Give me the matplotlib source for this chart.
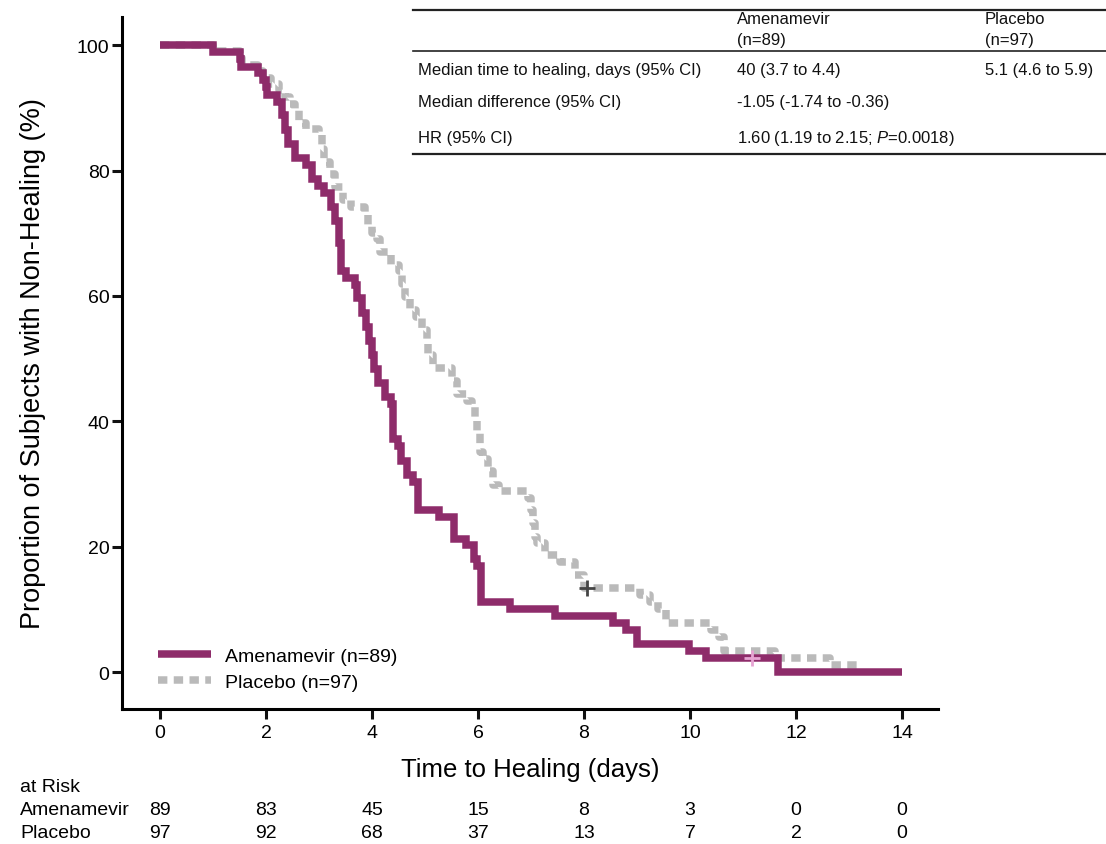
"""
Kaplan-Meier style chart: time to healing, amenamevir vs placebo.
Saves out.png.
"""
import matplotlib
matplotlib.use("Agg")
import matplotlib.pyplot as plt
import matplotlib.transforms as mtransforms
from matplotlib.lines import Line2D

plt.rcParams["font.family"] = ["Liberation Sans", "DejaVu Sans"]
plt.rcParams["mathtext.fontset"] = "custom"
plt.rcParams["mathtext.rm"] = "Liberation Sans"
plt.rcParams["mathtext.it"] = "Liberation Sans:italic"

# ── data ─────────────────────────────────────────────────────────────────────

amen_t = [0, 1.0, 1.5, 1.53, 1.85, 1.95, 2.0, 2.02, 2.2, 2.3, 2.36, 2.42, 2.55,
          2.75, 2.87, 2.98, 3.1, 3.22, 3.3, 3.38, 3.42, 3.5, 3.68, 3.72, 3.8,
          3.88, 3.95, 3.99, 4.03, 4.12, 4.25, 4.35, 4.4, 4.48, 4.55, 4.65, 4.78,
          4.87, 5.27, 5.55, 5.78, 5.92, 5.98, 6.06, 6.6, 7.45, 8.55, 8.8, 9.0,
          9.98, 10.3, 11.66, 14.0]
amen_s = [100, 98.9, 97.8, 96.6, 95.5, 94.4, 93.3, 92.1, 91.0, 88.8, 86.5, 84.3,
          82.0, 80.9, 78.7, 77.5, 76.4, 74.2, 71.9, 68.5, 64.0, 62.9, 61.8, 59.6,
          57.3, 55.1, 52.8, 50.6, 48.3, 46.1, 43.8, 42.7, 37.1, 36.0, 33.7, 31.5,
          30.3, 25.8, 24.7, 21.3, 20.2, 18.0, 16.9, 11.2, 10.1, 9.0, 7.9, 6.7,
          4.5, 3.4, 2.2, 0, 0]

plac_t = [0, 1.0, 1.5, 1.55, 1.85, 1.95, 2.1, 2.25, 2.35, 2.45, 2.55, 2.62, 2.75,
          3.0, 3.05, 3.1, 3.2, 3.3, 3.45, 3.6, 3.87, 3.93, 3.99, 4.1, 4.15, 4.35,
          4.5, 4.57, 4.62, 4.72, 4.82, 4.95, 5.04, 5.06, 5.15, 5.5, 5.6, 5.8,
          5.89, 5.94, 5.98, 6.04, 6.1, 6.19, 6.28, 6.4, 6.94, 7.0, 7.04, 7.08,
          7.12, 7.26, 7.55, 7.83, 8.0, 9.05, 9.25, 9.4, 9.55, 10.4, 10.55, 10.65,
          11.6, 12.65, 13.17]
plac_s = [100, 99.0, 97.9, 96.9, 95.9, 94.8, 93.8, 92.8, 91.8, 90.7, 89.7, 87.6,
          86.6, 85.6, 83.5, 81.4, 79.4, 77.3, 75.3, 74.2, 73.2, 71.1, 70.1, 69.1,
          67.0, 65.0, 63.9, 61.9, 59.8, 57.7, 56.7, 54.6, 52.6, 50.5, 48.5, 46.4,
          44.3, 43.3, 42.3, 40.2, 38.1, 35.1, 34.0, 32.0, 29.9, 28.9, 27.8, 25.8,
          23.7, 21.6, 20.6, 18.6, 17.5, 15.5, 13.4, 12.3, 11.2, 10.0, 7.8, 6.7,
          5.6, 3.3, 2.2, 1.1, 0]

# censored observations
amen_cens = ([11.17], [2.2])
plac_cens = ([8.05], [13.4])

risk_days = [0, 2, 4, 6, 8, 10, 12, 14]
risk_amen = [89, 83, 45, 15, 8, 3, 0, 0]
risk_plac = [97, 92, 68, 37, 13, 7, 2, 0]

PURPLE = "#8E2C6A"
GRAY = "#BABABA"

# ── figure ───────────────────────────────────────────────────────────────────

W, H = 1106, 845
fig = plt.figure(figsize=(W / 100, H / 100), dpi=100)
ax = fig.add_axes([122 / W, 1 - 710 / H, (938 - 122) / W, (710 - 18) / H])

ax.step(plac_t, plac_s, where="post", color=GRAY, lw=5.4, dashes=(1.25, 0.85),
        dash_capstyle="butt", solid_joinstyle="miter", label="Placebo (n=97)",
        zorder=2)
ax.step(amen_t, amen_s, where="post", color=PURPLE, lw=5.4,
        solid_capstyle="butt", solid_joinstyle="miter",
        label="Amenamevir (n=89)", zorder=3)
ax.plot(*plac_cens, ls="none", marker="+", ms=11, mew=2, color="#444444", zorder=4)
ax.plot(*amen_cens, ls="none", marker="+", ms=11, mew=2, color="#E6A3D2", zorder=4)

ax.set_xlim(-0.72, 14.68)
ax.set_ylim(-5.9, 104.5)
ax.set_xticks(range(0, 15, 2))
ax.set_yticks(range(0, 101, 20))
for side in ("top", "right"):
    ax.spines[side].set_visible(False)
for side in ("left", "bottom"):
    ax.spines[side].set_linewidth(2.2)
ax.tick_params(width=2.2, length=7, labelsize=14, color="#111111")
ax.tick_params(axis="y", pad=2)
ax.tick_params(axis="x", pad=4)

ax.set_xlabel("Time to Healing (days)", fontsize=18.5, labelpad=11)
ax.set_ylabel("Proportion of Subjects with Non-Healing (%)", fontsize=19.5, labelpad=22)

handles, labels = ax.get_legend_handles_labels()
ax.legend(handles[::-1], labels[::-1], loc="lower left", frameon=False,
          fontsize=14, handlelength=2.7, handletextpad=0.75, labelspacing=0.45,
          borderpad=0, borderaxespad=0,
          bbox_to_anchor=(158 / W, 1 - 692 / H), bbox_transform=fig.transFigure)

# ── at-risk table ────────────────────────────────────────────────────────────

tr = mtransforms.blended_transform_factory(ax.transData, fig.transFigure)
fig.text(20 / W, 1 - 788 / H, "at Risk", fontsize=14, va="center")
fig.text(20 / W, 1 - 811 / H, "Amenamevir", fontsize=14, va="center")
fig.text(20 / W, 1 - 834 / H, "Placebo", fontsize=14, va="center")
for d, a, p in zip(risk_days, risk_amen, risk_plac):
    ax.text(d, 1 - 811 / H, str(a), transform=tr, fontsize=14, ha="center", va="center")
    ax.text(d, 1 - 834 / H, str(p), transform=tr, fontsize=14, ha="center", va="center")

# ── summary table at top ─────────────────────────────────────────────────────

def hline(y, lw):
    fig.add_artist(Line2D([413 / W, 1.0], [1 - y / H, 1 - y / H],
                          transform=fig.transFigure, color="#222222", lw=lw))

hline(11, 1.6)
hline(52, 1.2)
hline(155, 1.6)

c0, c1, c2 = 418 / W, 737 / W, 985 / W
tbl = [
    (19, None, "Amenamevir", "Placebo"),
    (41, None, "(n=89)", "(n=97)"),
    (71, "Median time to healing, days (95% CI)", "40 (3.7 to 4.4)", "5.1 (4.6 to 5.9)"),
    (103, "Median difference (95% CI)", "-1.05 (-1.74 to -0.36)", None),
    (139, "HR (95% CI)", "1.60 (1.19 to 2.15; $P$=0.0018)", None),
]
for y, a, b, c in tbl:
    for x, s in ((c0, a), (c1, b), (c2, c)):
        if s:
            fig.text(x, 1 - y / H, s, fontsize=12, va="center", color="#111111")

plt.savefig("out.png", dpi=100)
plt.close()
print("Saved out.png")
